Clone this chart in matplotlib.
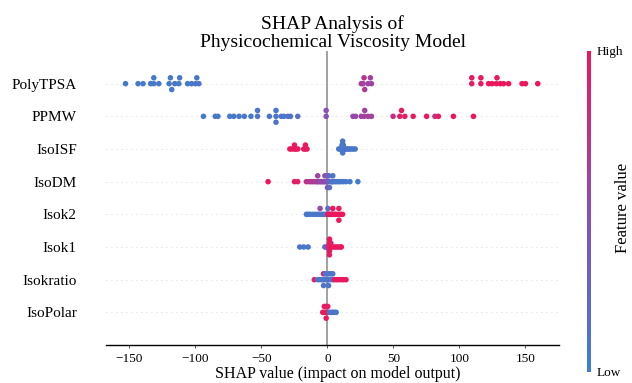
import numpy as np
import matplotlib
matplotlib.use("Agg")
import matplotlib.pyplot as plt
from matplotlib.colors import LinearSegmentedColormap, Normalize
from matplotlib.cm import ScalarMappable

plt.rcParams['font.family'] = ['Liberation Serif', 'DejaVu Serif']

# ---------------- data (bottom row first) ----------------
features = ["IsoPolar", "Isokratio", "Isok1", "Isok2", "IsoDM", "IsoISF", "PPMW", "PolyTPSA"]

polytpsa_shap = [-153, -143.5, -139.7, -134, -131.6, -131.6, -127.8, -120, -119, -118,
                 -115.7, -112.6, -112, -106, -103, -100, -99, -97.4,
                 25.6, 26.9, 27.7, 28.2, 30.7, 32.5, 33.3,
                 109.3, 109.3, 116.2, 116.2, 122, 124.6, 127.9, 128.4, 130.9, 133.4,
                 137.2, 147.4, 150, 159.3]
polytpsa_feat = [0.05, 0.06, 0.04, 0.07, 0.05, 0.06, 0.08, 0.05, 0.07, 0.06,
                 0.08, 0.06, 0.09, 0.07, 0.08, 0.1, 0.09, 0.1,
                 0.66, 0.62, 0.7, 0.64, 0.6, 0.63, 0.58,
                 0.95, 0.97, 0.96, 0.98, 0.97, 0.99, 0.96, 0.98, 1.0, 0.97,
                 0.99, 0.98, 1.0, 1.0]

ppmw_shap = [-94, -85, -83, -74, -71, -67, -63, -58, -53, -53, -44, -39, -39, -39,
             -35, -33, -30, -28, -22.5, -1, -1,
             19.3, 21.3, 25.6, 27.8, 28.2, 30.7, 33.3,
             49.7, 54.8, 56.1, 58.6, 64.9, 75.1, 81.4, 84, 95.4, 110.6]
ppmw_feat = [0.05, 0.06, 0.07, 0.05, 0.08, 0.06, 0.09, 0.07, 0.1, 0.08, 0.1, 0.12, 0.1, 0.11,
             0.12, 0.1, 0.13, 0.12, 0.15, 0.45, 0.48,
             0.55, 0.56, 0.6, 0.62, 0.6, 0.63, 0.62,
             0.78, 0.92, 0.95, 0.93, 0.96, 0.97, 0.72, 0.98, 0.99, 1.0]

isoisf_shap = [-28.5, -27, -25, -25, -24, -22.5, -18, -16.7, -16.7, -15.5,
               8.5, 9.5, 10.5, 11, 11, 11.5, 11.5, 11.5, 11.5, 12, 12, 12.5,
               13.5, 14.5, 15.5, 16.5, 18, 19.5, 21]
isoisf_feat = [0.97, 0.96, 0.98, 0.95, 0.97, 0.96, 0.98, 0.96, 0.97, 0.95,
               0.08, 0.07, 0.1, 0.08, 0.09, 0.07, 0.1, 0.08, 0.09, 0.06, 0.08, 0.07,
               0.09, 0.08, 0.07, 0.1, 0.09, 0.08, 0.1]

isodm_shap = [-45, -25, -22.6,
              -16, -14, -12.5, -11, -9.5, -8, -7.4, -7.4, -6, -5, -4, -3, -2, -2, -1, 0, 0, 0,
              1, 1, 1.5, 2.5, 3.5, 4, 4, 5.5, 7, 8.5, 10, 12, 14, 17, 23]
isodm_feat = [1.0, 0.95, 0.92,
              0.75, 0.72, 0.7, 0.68, 0.66, 0.64, 0.62, 0.6, 0.6, 0.58, 0.56, 0.55, 0.52, 0.5, 0.5, 0.47, 0.45, 0.42,
              0.3, 0.25, 0.2, 0.18, 0.15, 0.12, 0.1, 0.1, 0.08, 0.08, 0.07, 0.06, 0.06, 0.05, 0.05]

isok2_shap = [-16, -14.5, -13, -11, -9, -7, -5.6, -5.6, -4, -2.5, -1, 0.3, 0.3,
              0.8, 1.5, 2.5, 3.5, 4, 4, 5.5, 6.5, 8.6, 8.6, 8.6, 10, 11.4]
isok2_feat = [0.08, 0.1, 0.07, 0.09, 0.1, 0.08, 0.1, 0.55, 0.12, 0.1, 0.1, 0.9, 0.15,
              0.95, 0.97, 0.96, 0.98, 0.95, 0.97, 0.96, 0.98, 0.97, 0.95, 0.99, 0.96, 0.98]

isok1_shap = [-21, -18, -14.7, -2, -1,
              1.5, 1.5, 1.5, 1.5, 1.5, 0.5, 2.5, 2.5, 3.5, 5, 6.5, 8, 9.5, 10.5]
isok1_feat = [0.08, 0.1, 0.07, 0.15, 0.3,
              0.95, 0.97, 0.96, 0.98, 0.92, 0.85, 0.97, 0.95, 0.99, 0.96, 0.98, 0.97, 0.95, 0.99]

isokratio_shap = [-10, -7.4, -5.6, -4.2, -3, -3, -3, -1.5, -1.5, 0, 0.8, 0.8, 0.8,
                  2.5, 2.5, 4, 4, 5.3, 7, 8.6, 10.5, 12, 14]
isokratio_feat = [0.95, 0.1, 0.08, 0.1, 0.1, 0.95, 0.12, 0.1, 0.08, 0.15, 0.1, 0.12, 0.1,
                  0.1, 0.12, 0.08, 0.1, 0.96, 0.97, 0.95, 0.98, 0.96, 0.97]

isopolar_shap = [-3.6, -2.4, -2.4, -1, -1, -1, 0.2, 0.2, 1.5, 2.8, 4, 5.3, 6.6]
isopolar_feat = [0.95, 0.97, 0.96, 0.98, 0.95, 0.97, 0.96, 0.94, 0.1, 0.08, 0.1, 0.12, 0.1]

shap_rows = [isopolar_shap, isokratio_shap, isok1_shap, isok2_shap,
             isodm_shap, isoisf_shap, ppmw_shap, polytpsa_shap]
feat_rows = [isopolar_feat, isokratio_feat, isok1_feat, isok2_feat,
             isodm_feat, isoisf_feat, ppmw_feat, polytpsa_feat]

x_ticks = [-150, -100, -50, 0, 50, 100, 150]

# ---------------- style ----------------
cmap = LinearSegmentedColormap.from_list("shap_rb", ["#3d7fcf", "#8a4fb4", "#f21458"])


def swarm_offsets(vals, nbins=100, row_height=0.4):
    vals = np.asarray(vals, float)
    quant = np.round(nbins * (vals - vals.min()) / (vals.max() - vals.min() + 1e-8))
    inds = np.argsort(quant, kind="stable")
    layer = 0
    last = -1
    ys = np.zeros(len(vals))
    for i in inds:
        if quant[i] != last:
            layer = 0
        ys[i] = np.ceil(layer / 2) * ((layer % 2) * 2 - 1)
        layer += 1
        last = quant[i]
    ys *= 0.9 * (row_height / np.max(ys + 1))
    return ys


W, H = 632, 383
fig = plt.figure(figsize=(W / 100, H / 100), dpi=100)
ax = fig.add_axes([106 / W, 1 - 345 / H, (559 - 106) / W, (345 - 51) / H])

for pos, (sv, fv) in enumerate(zip(shap_rows, feat_rows)):
    ax.axhline(y=pos, color="#cccccc", lw=0.6, dashes=(1, 5), zorder=-1)
    ys = swarm_offsets(sv)
    ax.scatter(sv, pos + ys, c=fv, cmap=cmap, vmin=0, vmax=1, s=16,
               linewidths=0, zorder=3)

ax.axvline(x=0, color="#888888", lw=1.1, zorder=-1)

ax.set_xlim(-167.8, 175.4)
ax.set_ylim(-1, len(features))
ax.set_yticks(range(len(features)))
ax.set_yticklabels(features, fontsize=11)
ax.tick_params(axis='y', length=0, pad=21)
ax.set_xticks(x_ticks)
ax.set_xticklabels([f"\u2212{abs(t)}" if t < 0 else str(t) for t in x_ticks])
ax.tick_params(axis='x', labelsize=9.5, length=2.5, width=0.6, color="#333333", pad=3.5)
for s in ["top", "right", "left"]:
    ax.spines[s].set_visible(False)
ax.spines["bottom"].set_linewidth(1.0)
ax.set_xlabel("SHAP value (impact on model output)", fontsize=11.5)
ax.xaxis.set_label_coords(0.512, (345 - 382) / 294)
ax.xaxis.label.set_va("bottom")
ax.set_title("SHAP Analysis of\nPhysicochemical Viscosity Model", fontsize=14, pad=3,
             linespacing=1.05)

cax = fig.add_axes([586.7 / W, 1 - 371.7 / H, 4 / W, 321 / H])
sm = ScalarMappable(norm=Normalize(0, 1), cmap=cmap)
cb = fig.colorbar(sm, cax=cax, ticks=[0, 1])
cb.outline.set_visible(False)
cb.ax.set_yticklabels(["Low", "High"])
cb.ax.tick_params(labelsize=9.5, length=0, pad=4)
fig.text(623 / W, 1 - 208 / H, "Feature value", rotation=90, ha="center", va="center",
         fontsize=12)

fig.savefig("out.png", dpi=100)
